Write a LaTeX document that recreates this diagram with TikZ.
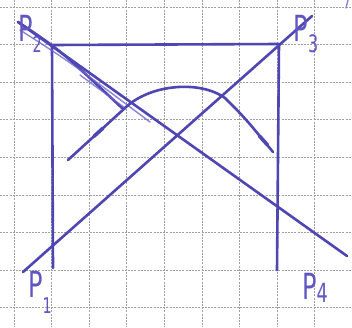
\documentclass[tikz,border=0pt]{standalone}
\usepackage{fontspec}
\setsansfont{DejaVu Sans}
\definecolor{penc}{RGB}{78,70,178}
\definecolor{penl}{RGB}{110,100,205}
\definecolor{labc}{RGB}{95,85,195}
\begin{document}
\begin{tikzpicture}[x=1pt,y=-1pt,
  pen/.style={draw=penc, line width=2.6pt, line cap=round, line join=round},
  thinpen/.style={draw=penl, line width=1.4pt, line cap=round, opacity=0.8},
  gridline/.style={draw=gray!75, line width=0.9pt, dash pattern=on 2pt off 1.2pt},
  lbl/.style={text=labc, font=\sffamily\fontsize{30}{30}\selectfont, inner sep=0pt, xscale=0.8, yscale=1.2}]
\useasboundingbox (0,0) rectangle (352,327);
\fill[white] (0,0) rectangle (352,327);
\foreach \i in {0,...,9} \draw[gridline] ({14+37.6*\i},0) -- ({14+37.6*\i},327);
\foreach \j in {0,...,8} \draw[gridline] (0,{7+37.6*\j}) -- (352,{7+37.6*\j});
% points
\coordinate (P1) at (23,272);
\coordinate (P2) at (18,22);
\coordinate (P3) at (312,16);
\coordinate (P4) at (347,256);
\coordinate (TL) at (52,45);
\coordinate (TR) at (279,44);
\coordinate (BL) at (53,268);
\coordinate (BR) at (277,270);
% square sides
\draw[pen] (TL) -- (TR);
\draw[pen] (TL) -- (BL);
\draw[pen] (TR) -- (BR);
% diagonals
\draw[pen] (P2) -- (P4);
\draw[pen] (P2) .. controls (60,50) .. (122,108);
\draw[thinpen] (20,30) .. controls (70,62) .. (150,122);
\draw[thinpen] (80,75) -- (125,108);
\draw[pen] (P1) -- (P3);
% curve
\coordinate (C0) at (68,160);
\coordinate (C1) at (125,108);
\coordinate (C2) at (225,98);
\coordinate (C3) at (273,152);
\draw[pen] (C0) -- (C1) .. controls (150,84) and (200,80) .. (C2) .. controls (245,118) .. (C3);
\draw[pen, line width=3.6pt] (94,136.3) -- (103,128.1);
\draw[pen, line width=3.6pt] (259.5,136) -- (267.5,145);
% little mark
\draw[thinpen] (348,0) -- (346,8);
% labels
\node[lbl] (L2) at (30,34) {P\raisebox{-0.3em}{\fontsize{18}{18}\selectfont 2}};
\node[lbl] (L3) at (306,34) {P\raisebox{-0.3em}{\fontsize{20}{20}\selectfont 3}};
\node[lbl] (L1) at (40,292) {P\raisebox{-0.45em}{\fontsize{18}{18}\selectfont 1}};
\node[lbl] (L4) at (315,288) {P\raisebox{-0.1em}{\fontsize{22}{22}\selectfont 4}};
\end{tikzpicture}
\end{document}
